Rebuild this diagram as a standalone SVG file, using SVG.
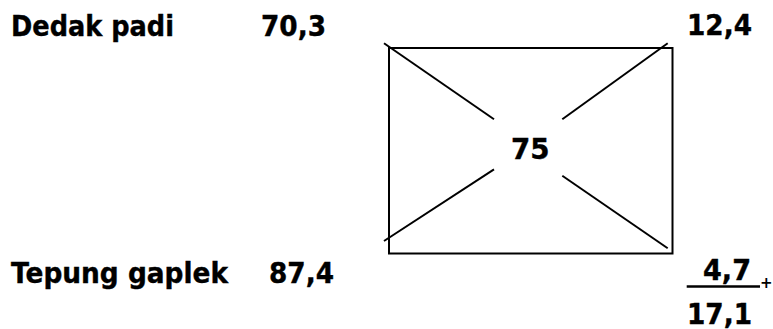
<svg xmlns="http://www.w3.org/2000/svg" width="773" height="329" viewBox="0 0 773 329">
<style>
.t{font-family:"DejaVu Sans","Verdana",sans-serif;font-weight:bold;font-size:27.5px;fill:#000;stroke:#000;stroke-width:0.4}
.s{font-family:"DejaVu Sans",sans-serif;font-weight:bold;font-size:15px;fill:#000}
.ln{stroke:#000;stroke-width:2;fill:none}
</style>
<rect width="773" height="329" fill="#fff"/>
<g id="labels">
<text class="t" x="11" y="36" textLength="163" lengthAdjust="spacingAndGlyphs">Dedak padi</text>
<text class="t" x="261" y="36" textLength="65" lengthAdjust="spacingAndGlyphs">70,3</text>
<text class="t" x="11" y="283" textLength="217" lengthAdjust="spacingAndGlyphs">Tepung gaplek</text>
<text class="t" x="269" y="283" textLength="65" lengthAdjust="spacingAndGlyphs">87,4</text>
</g>
<g id="box">
<rect class="ln" x="389" y="48" width="283.5" height="205.5"/>
<text class="t" x="511" y="159" textLength="38.5" lengthAdjust="spacingAndGlyphs">75</text>
</g>
<g id="connectors">
<line class="ln" x1="384" y1="43.3" x2="494" y2="119.3"/>
<line class="ln" x1="562.3" y1="119.3" x2="667.7" y2="43.3"/>
<line class="ln" x1="384" y1="241" x2="494" y2="169.3"/>
<line class="ln" x1="562.3" y1="175.7" x2="667.7" y2="248.3"/>
</g>
<g id="results">
<text class="t" x="687" y="35" textLength="65" lengthAdjust="spacingAndGlyphs">12,4</text>
<text class="t" x="703" y="280" textLength="48" lengthAdjust="spacingAndGlyphs">4,7</text>
<line x1="686.7" y1="286.5" x2="760" y2="286.5" stroke="#000" stroke-width="2.7"/>
<text class="s" x="760" y="288">+</text>
<text class="t" x="687" y="324" textLength="65" lengthAdjust="spacingAndGlyphs">17,1</text>
</g>
</svg>
